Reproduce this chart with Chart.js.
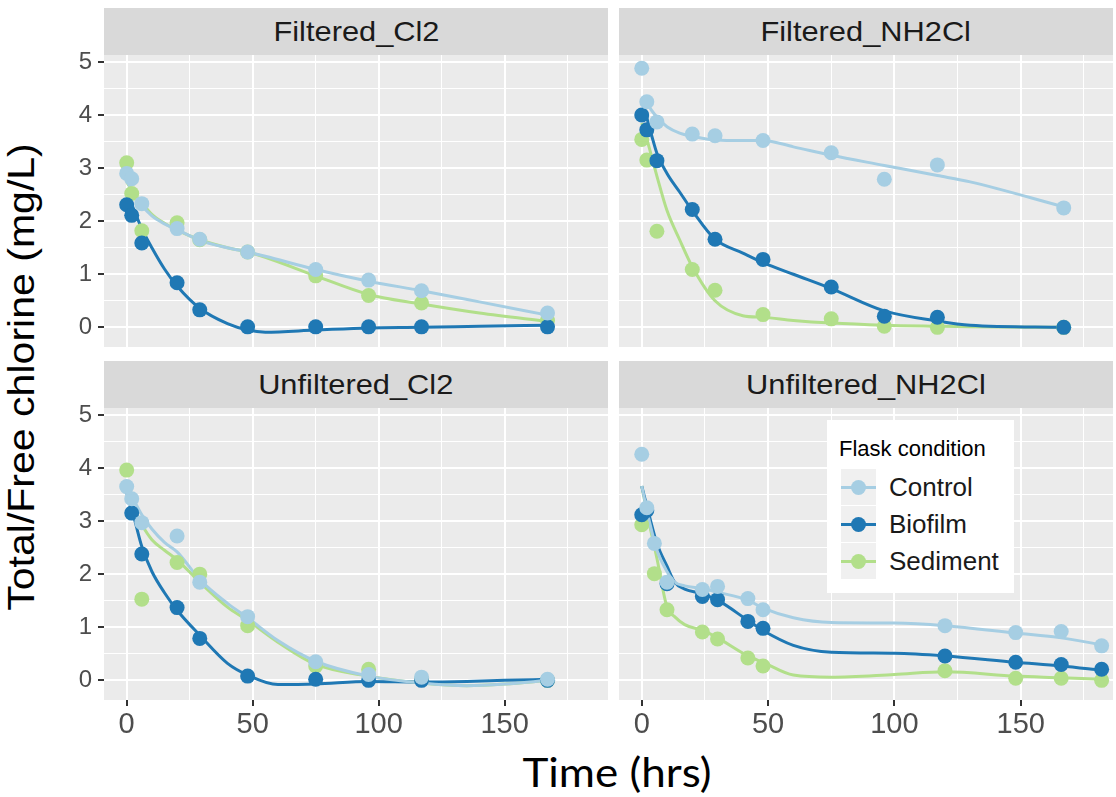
<!DOCTYPE html>
<html>
<head>
<meta charset="utf-8">
<script src="https://cdn.jsdelivr.net/npm/chart.js@4.4.1/dist/chart.umd.min.js"></script>
<style>
  body { margin: 0; background: #fff; font-family: "Liberation Sans", Arial, sans-serif; }
  #fig { position: relative; width: 1116px; height: 797px; overflow: hidden; }
  #fig canvas { position: absolute; }
  .strip { position: absolute; height: 47px; background: #d9d9d9; color: #1a1a1a;
           font-size: 28px; line-height: 47px; text-align: center; }
  .strip span { display: inline-block; transform: scaleX(1.1); }
  #xtitle { position: absolute; left: 417px; width: 400px; top: 748px; text-align: center;
            font-family: Lato, sans-serif; font-size: 40px; color: #000; }
  #xtitle span { display: inline-block; transform: scaleX(1.1); }
  #ytitle { position: absolute; left: -228px; width: 500px; top: 356px; text-align: center;
            font-size: 36px; color: #000; transform: rotate(-90deg) scaleX(1.14); }
  #legend { position: absolute; left: 827px; top: 420px; width: 187px; height: 173px; background: #fff; }
  #legend .title { position: absolute; left: 12px; top: 16px; font-size: 22px; color: #000; }
  #legend .row { position: absolute; left: 14px; height: 37px; width: 170px; }
  #legend .key { position: absolute; left: 0; top: 0; width: 35px; height: 36px; background: #f0f0f0; }
  #legend .key i { position: absolute; left: 0; top: 16.5px; width: 35px; height: 3px; }
  #legend .key b { position: absolute; left: 10px; top: 10.5px; width: 15px; height: 15px; border-radius: 50%; }
  #legend .lab { position: absolute; left: 48px; top: 0; line-height: 37px; font-size: 26px; color: #1a1a1a; }
</style>
</head>
<body>
<div id="fig">
  <div class="strip" style="left:104px;top:8px;width:504px"><span>Filtered_Cl2</span></div>
  <div class="strip" style="left:619px;top:8px;width:494px"><span>Filtered_NH2Cl</span></div>
  <div class="strip" style="left:104px;top:361px;width:504px"><span>Unfiltered_Cl2</span></div>
  <div class="strip" style="left:619px;top:361px;width:494px"><span>Unfiltered_NH2Cl</span></div>
  <!-- canvases start 10px above each panel so the top tick label is not cut -->
  <canvas id="c1" width="558" height="302" style="left:50px;top:45px"></canvas>
  <canvas id="c2" width="494" height="302" style="left:619px;top:45px"></canvas>
  <canvas id="c3" width="558" height="346" style="left:50px;top:398px"></canvas>
  <canvas id="c4" width="494" height="346" style="left:619px;top:398px"></canvas>
  <div id="ytitle">Total/Free chlorine (mg/L)</div>
  <div id="xtitle"><span>Time (hrs)</span></div>
  <div id="legend"><div class="title">Flask condition</div></div>
</div>
<script>
const conditions = ['Control', 'Biofilm', 'Sediment'];
const colors = ['#a6cee3', '#1f78b4', '#b2df8a'];

const xMajor = [0, 50, 100, 150];
const xMinor = [25, 75, 125, 175];
const yMajor = [0, 1, 2, 3, 4, 5];
const yMinor = [0.5, 1.5, 2.5, 3.5, 4.5];

// Filtered_Cl2 - measured points
const fclTime = [0, 2, 6, 20, 29, 48, 75, 96, 117, 167];
const fclControl = [2.90, 2.80, 2.33, 1.86, 1.66, 1.42, 1.09, 0.89, 0.69, 0.27];
const fclBiofilm = [2.31, 2.11, 1.59, 0.84, 0.33, 0.01, 0.01, 0.01, 0.01, 0.01];
const fclSediment = [3.10, 2.52, 1.82, 1.97, 1.65, 1.42, 0.97, 0.60, 0.46, 0.13];
// Filtered_Cl2 - loess fits
const fclFitX = [0, 3, 6, 10, 15, 20, 29, 40, 48, 55, 75, 96, 117, 140, 167];
const fclFitControl = [2.77, 2.50, 2.30, 2.10, 1.95, 1.84, 1.64, 1.50, 1.42, 1.34, 1.09, 0.87, 0.69, 0.48, 0.23];
const fclFitBiofilm = [2.55, 2.20, 1.86, 1.50, 1.10, 0.78, 0.36, 0.07, -0.05, -0.09, -0.05, -0.01, 0.00, 0.02, 0.04];
const fclFitSediment = [2.74, 2.52, 2.35, 2.13, 1.96, 1.83, 1.65, 1.50, 1.42, 1.32, 0.97, 0.62, 0.44, 0.27, 0.11];

// Filtered_NH2Cl
const fnhTime = [0, 2, 6, 20, 29, 48, 75, 96, 117, 167];
const fnhControl = [4.88, 4.25, 3.87, 3.64, 3.61, 3.52, 3.29, 2.79, 3.06, 2.25];
const fnhBiofilm = [4.00, 3.72, 3.14, 2.22, 1.66, 1.28, 0.76, 0.21, 0.19, 0.00];
const fnhSediment = [3.54, 3.15, 1.81, 1.09, 0.70, 0.24, 0.16, 0.02, 0.00, 0.00];
const fnhFitX = [0, 2, 4, 6, 10, 15, 20, 29, 40, 48, 60, 75, 96, 117, 130, 167];
const fnhFitControl = [4.32, 4.22, 4.08, 3.96, 3.78, 3.66, 3.60, 3.53, 3.52, 3.52, 3.40, 3.24, 3.05, 2.86, 2.74, 2.27];
const fnhFitBiofilm = [4.28, 3.95, 3.60, 3.28, 2.90, 2.55, 2.20, 1.66, 1.40, 1.22, 1.00, 0.73, 0.31, 0.12, 0.04, 0.00];
const fnhFitSediment = [3.85, 3.55, 3.20, 2.85, 2.20, 1.65, 1.14, 0.50, 0.22, 0.19, 0.13, 0.08, 0.04, 0.02, 0.01, 0.00];

// Unfiltered_Cl2
const uclTime = [0, 2, 6, 20, 29, 48, 75, 96, 117, 167];
const uclControl = [3.65, 3.42, 2.97, 2.72, 1.85, 1.20, 0.35, 0.11, 0.06, 0.02];
const uclBiofilm = [null, 3.15, 2.38, 1.37, 0.79, 0.08, 0.02, 0.00, 0.00, 0.00];
const uclSediment = [3.96, null, 1.53, 2.22, 2.00, 1.03, 0.27, 0.21, 0.02, 0.00];
const uclFitX = [0, 3, 6, 10, 15, 20, 29, 40, 48, 60, 75, 96, 117, 135, 150, 167];
const uclFitControl = [3.65, 3.38, 3.12, 2.85, 2.60, 2.42, 1.90, 1.45, 1.18, 0.75, 0.36, 0.08, -0.05, -0.10, -0.07, 0.00];
const uclFitBiofilm = [3.53, 3.05, 2.52, 2.05, 1.65, 1.32, 0.85, 0.32, 0.10, -0.08, -0.07, -0.02, -0.03, -0.02, 0.00, 0.02];
const uclFitSediment = [3.47, 3.20, 2.93, 2.65, 2.45, 2.27, 1.85, 1.38, 1.13, 0.72, 0.30, 0.08, -0.05, -0.10, -0.07, 0.00];

// Unfiltered_NH2Cl
const unhTime = [0, 2, 5, 10, 24, 30, 42, 48, 120, 148, 166, 182];
const unhControl = [4.26, 3.25, 2.58, 1.85, 1.71, 1.77, 1.54, 1.33, 1.03, 0.90, 0.92, 0.65];
const unhBiofilm = [3.12, 3.20, null, 1.82, 1.58, 1.52, 1.11, 0.98, 0.46, 0.34, 0.30, 0.21];
const unhSediment = [2.93, null, 2.01, 1.33, 0.91, 0.78, 0.42, 0.27, 0.18, 0.04, 0.04, 0.00];
const unhFitX = [0, 3, 6, 10, 13, 17, 24, 30, 42, 48, 60, 75, 100, 120, 148, 166, 182];
const unhFitControl = [3.66, 3.00, 2.45, 2.05, 1.85, 1.78, 1.73, 1.66, 1.51, 1.36, 1.18, 1.09, 1.08, 1.03, 0.89, 0.80, 0.67];
const unhFitBiofilm = [3.66, 3.10, 2.58, 2.15, 1.85, 1.72, 1.63, 1.51, 1.13, 0.94, 0.66, 0.53, 0.51, 0.46, 0.34, 0.27, 0.19];
const unhFitSediment = [3.66, 2.95, 2.30, 1.38, 1.20, 1.05, 0.94, 0.80, 0.46, 0.34, 0.10, 0.06, 0.11, 0.16, 0.08, 0.05, 0.02];

const FONT = '"Liberation Sans", Arial, sans-serif';

const panelBg = {
  id: 'panelBg',
  beforeDraw(chart) {
    const { ctx, chartArea: a } = chart;
    ctx.save();
    ctx.fillStyle = '#ebebeb';
    ctx.fillRect(a.left, a.top, a.width, a.height);
    ctx.restore();
  }
};

const toXY = (xs, ys) => xs.map((x, i) => ({ x, y: ys[i] })).filter(p => p.y !== null);

// scale size is fixed, and label overflow must not shrink the panel
const fixSize = (s, w, h) => {
  if (w !== null) s.width = w;
  if (h !== null) s.height = h;
  s.paddingTop = s.paddingBottom = s.paddingLeft = s.paddingRight = 0;
};

function makePanel(id, time, values, fitX, fits, opts) {
  const pointSets = values.map((v, i) => ({
    label: conditions[i],
    data: toXY(time, v),
    showLine: false,
    pointRadius: 7.5,
    pointHoverRadius: 7.5,
    pointBorderWidth: 0,
    pointBackgroundColor: colors[i]
  }));
  const fitSets = fits.map((v, i) => ({
    label: conditions[i] + ' fit',
    data: toXY(fitX, v),
    showLine: true,
    borderColor: colors[i],
    borderWidth: 3,
    pointRadius: 0,
    cubicInterpolationMode: 'monotone'
  }));

  const isMajor = (ctx, majors) => ctx.tick && majors.includes(ctx.tick.value);

  new Chart(document.getElementById(id), {
    type: 'scatter',
    data: { datasets: pointSets.concat(fitSets) },
    plugins: [panelBg],
    options: {
      responsive: false,
      animation: false,
      devicePixelRatio: 1,
      layout: { padding: { top: 10, left: 0, right: 0, bottom: 0 }, autoPadding: false },
      plugins: { legend: { display: false }, tooltip: { enabled: false } },
      scales: {
        x: {
          type: 'linear',
          min: -9,
          max: opts.xMax,
          afterBuildTicks: s => { s.ticks = xMajor.concat(xMinor).sort((a, b) => a - b).map(v => ({ value: v })); },
          afterFit: s => fixSize(s, null, opts.showX ? 44 : 0),
          border: { display: false },
          grid: {
            color: '#ffffff',
            lineWidth: ctx => isMajor(ctx, xMajor) ? 2 : 1,
            drawTicks: opts.showX,
            tickLength: 6,
            tickWidth: 2,
            tickColor: ctx => isMajor(ctx, xMajor) ? '#333333' : 'rgba(0,0,0,0)'
          },
          ticks: {
            display: opts.showX,
            autoSkip: false,
            maxRotation: 0,
            padding: 2,
            color: '#4d4d4d',
            font: { family: FONT, size: 29 },
            callback: v => xMajor.includes(v) ? String(v) : ''
          }
        },
        y: {
          type: 'linear',
          min: -0.37,
          max: 5.13,
          afterBuildTicks: s => { s.ticks = yMajor.concat(yMinor).sort((a, b) => a - b).map(v => ({ value: v })); },
          afterFit: s => fixSize(s, opts.showY ? 54 : 0, null),
          border: { display: false },
          grid: {
            color: '#ffffff',
            lineWidth: ctx => isMajor(ctx, yMajor) ? 2 : 1,
            drawTicks: opts.showY,
            tickLength: 6,
            tickWidth: 2,
            tickColor: ctx => isMajor(ctx, yMajor) ? '#333333' : 'rgba(0,0,0,0)'
          },
          ticks: {
            display: opts.showY,
            autoSkip: false,
            padding: 6,
            color: '#4d4d4d',
            font: { family: FONT, size: 24 },
            callback: v => yMajor.includes(v) ? String(v) : ''
          }
        }
      }
    }
  });
}

makePanel('c1', fclTime, [fclControl, fclBiofilm, fclSediment], fclFitX,
  [fclFitControl, fclFitBiofilm, fclFitSediment], { showX: false, showY: true, xMax: 191 });
makePanel('c2', fnhTime, [fnhControl, fnhBiofilm, fnhSediment], fnhFitX,
  [fnhFitControl, fnhFitBiofilm, fnhFitSediment], { showX: false, showY: false, xMax: 186.5 });
makePanel('c3', uclTime, [uclControl, uclBiofilm, uclSediment], uclFitX,
  [uclFitControl, uclFitBiofilm, uclFitSediment], { showX: true, showY: true, xMax: 191 });
makePanel('c4', unhTime, [unhControl, unhBiofilm, unhSediment], unhFitX,
  [unhFitControl, unhFitBiofilm, unhFitSediment], { showX: true, showY: false, xMax: 186.5 });

// legend rows
const legend = document.getElementById('legend');
conditions.forEach((name, i) => {
  const row = document.createElement('div');
  row.className = 'row';
  row.style.top = (49 + i * 37) + 'px';
  row.innerHTML = '<div class="key"><i style="background:' + colors[i] + '"></i><b style="background:' + colors[i] +
    '"></b></div><div class="lab">' + name + '</div>';
  legend.appendChild(row);
});
</script>
</body>
</html>
